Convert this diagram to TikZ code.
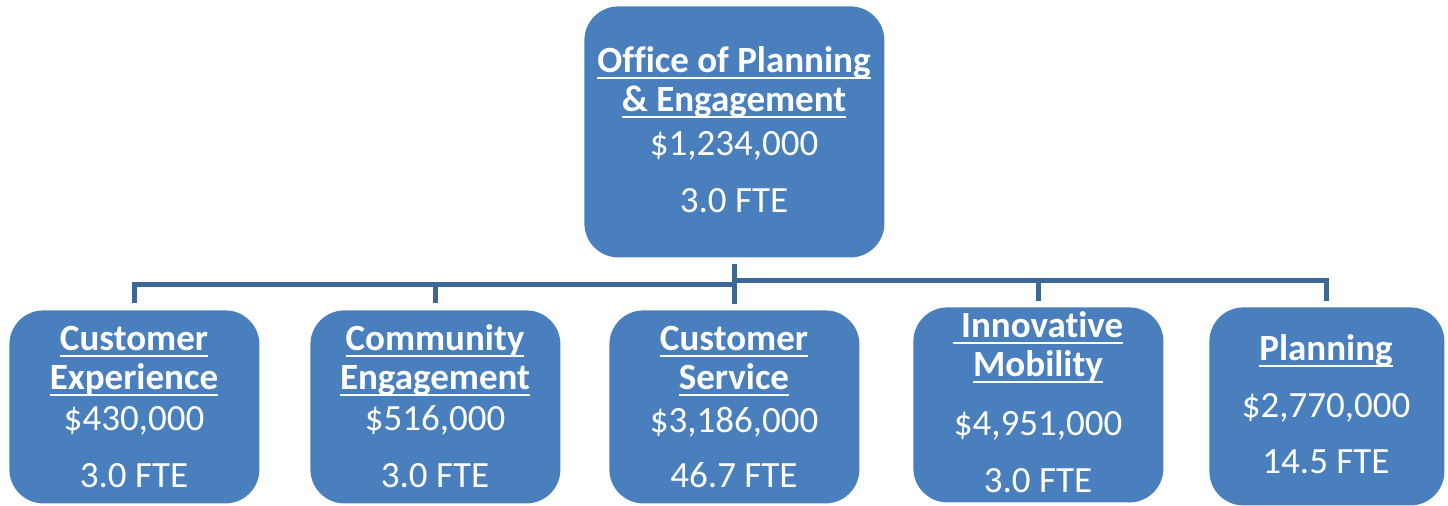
\documentclass[tikz,border=0pt]{standalone}
\usepackage{fontspec}
\setmainfont[Ligatures={NoCommon,NoRare,NoContextual}]{Carlito}
\newcommand{\undl}[1]{\setbox0\hbox{#1}\rlap{\rule[-3.3pt]{\wd0}{1pt}}\box0}
\definecolor{boxblue}{RGB}{74,127,190}
\definecolor{lineblue}{RGB}{60,103,152}
\begin{document}
\begin{tikzpicture}[x=0.5pt,y=-0.5pt,
  box/.style={fill=boxblue, rounded corners=17pt, anchor=north west, inner sep=0pt, minimum width=125pt},
  conn/.style={draw=lineblue, line width=2.5pt},
  ttl/.style={anchor=base, text=white, font=\bfseries\fontsize{18.5}{20}\selectfont, inner sep=0pt},
  val/.style={anchor=base, text=white, font=\fontsize{18.5}{20}\selectfont, inner sep=0pt}]
\useasboundingbox (0,0) rectangle (1448,505);
% boxes
\node[box, minimum width=150pt, minimum height=125.5pt] (ope) at (584,6) {};
\node[box, minimum height=96.5pt] (ce) at (9,310) {};
\node[box, minimum height=96.5pt] (coe) at (310,310) {};
\node[box, minimum height=96.5pt] (cs) at (609,310) {};
\node[box, minimum height=97.5pt] (im) at (913,307) {};
\node[box, minimum width=117.5pt, minimum height=99pt] (pl) at (1209,307) {};
% connectors
\coordinate (jL) at (734,284.5);
\coordinate (jR) at (734,280.5);
\draw[conn] ([yshift=3.5pt]ce.north) |- (jL);
\draw[conn] ([yshift=3.5pt]coe.north) -- (coe.north |- jL);
\draw[conn] (jR) -| ([yshift=3pt]pl.north);
\draw[conn] ([yshift=3pt]im.north) -- (im.north |- jR);
\draw[conn] ([yshift=-3pt]ope.south) -- ([yshift=3pt]cs.north);
% texts top
\node[ttl] (t1) at (734,72) {\undl{Office of Planning}};
\node[ttl] (t2) at (734,111) {\undl{\& Engagement}};
\node[val] (t3) at (734,155) {\$1,234,000};
\node[val] (t4) at (734,212) {3.0 FTE};
% customer experience
\node[ttl] (ce1) at (134,350) {\undl{Customer}};
\node[ttl] (ce2) at (134,389) {\undl{Experience}};
\node[val] (ce3) at (134,430) {\$430,000};
\node[val] (ce4) at (134,487) {3.0 FTE};
% community engagement
\node[ttl] (co1) at (435,350) {\undl{Community}};
\node[ttl] (co2) at (435,389) {\undl{Engagement}};
\node[val] (co3) at (435,430) {\$516,000};
\node[val] (co4) at (435,487) {3.0 FTE};
% customer service
\node[ttl] (cs1) at (734,350) {\undl{Customer}};
\node[ttl] (cs2) at (734,389) {\undl{Service}};
\node[val] (cs3) at (734,432) {\$3,186,000};
\node[val] (cs4) at (734,487) {46.7 FTE};
% innovative mobility
\node[ttl] (im1) at (1038,337) {\undl{\ Innovative}};
\node[ttl] (im2) at (1038,376) {\undl{Mobility}};
\node[val] (im3) at (1038,435) {\$4,951,000};
\node[val] (im4) at (1038,492) {3.0 FTE};
% planning
\node[ttl] (pl1) at (1326,360) {\undl{Planning}};
\node[val] (pl2) at (1326,417) {\$2,770,000};
\node[val] (pl3) at (1326,473) {14.5 FTE};
\end{tikzpicture}
\end{document}
